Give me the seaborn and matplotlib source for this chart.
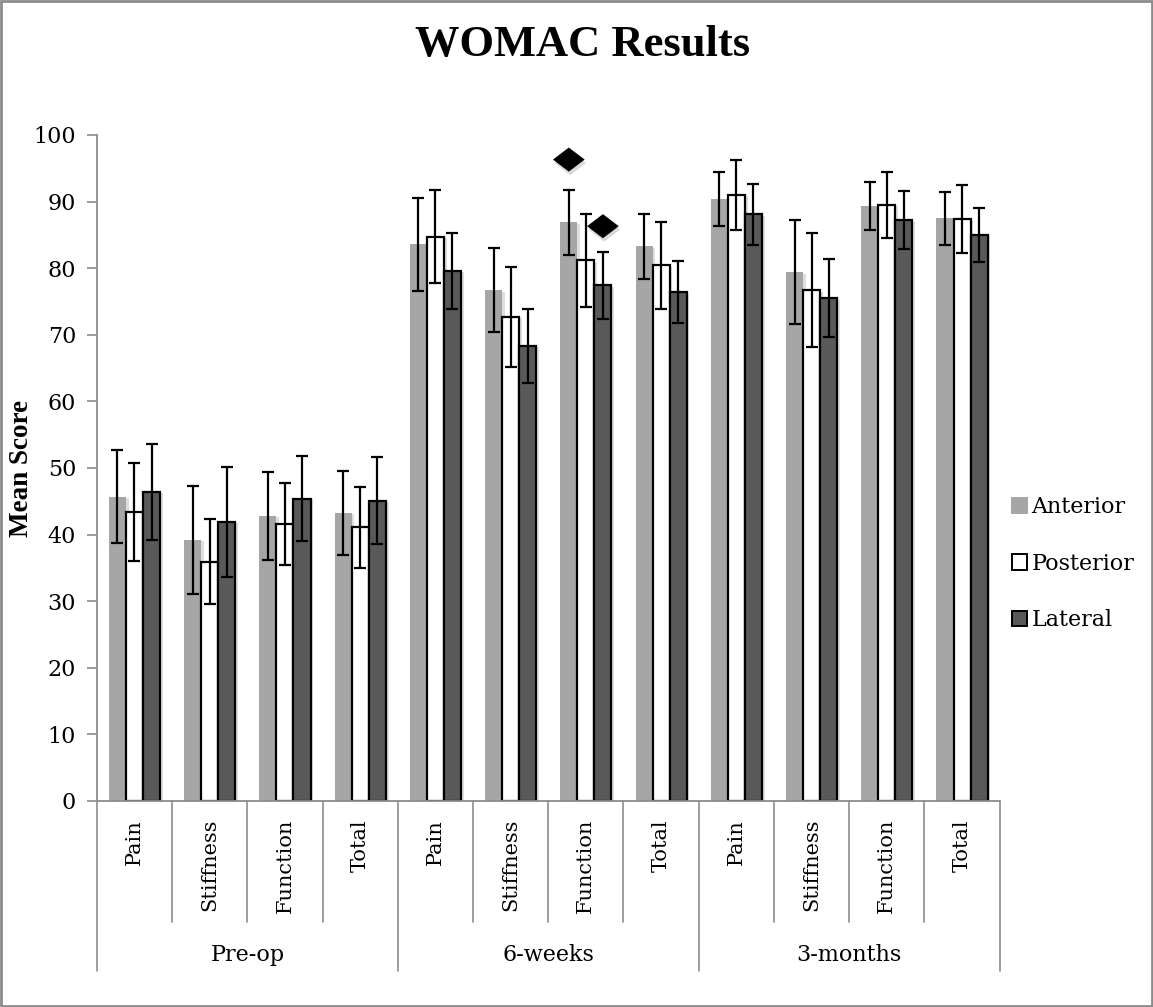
import pandas as pd
import seaborn as sns
import matplotlib.pyplot as plt
import matplotlib.patheffects as pe
from matplotlib.path import Path
from matplotlib.patches import Patch, Rectangle

# Valores
periods = ["Pre-op", "6-weeks", "3-months"]
measures = ["Pain", "Stiffness", "Function", "Total"]
approaches = ["Anterior", "Posterior", "Lateral"]

anterior_mean = [45.7, 39.2, 42.8, 43.3, 83.6, 76.7, 86.9, 83.3, 90.4, 79.4, 89.3, 87.5]
anterior_err = [7.0, 8.1, 6.6, 6.3, 7.0, 6.3, 4.9, 4.9, 4.0, 7.8, 3.6, 4.0]
posterior_mean = [43.4, 35.9, 41.6, 41.1, 84.7, 72.7, 81.2, 80.4, 91.0, 76.7, 89.5, 87.4]
posterior_err = [7.3, 6.4, 6.1, 6.1, 7.0, 7.5, 7.0, 6.5, 5.3, 8.6, 5.0, 5.1]
lateral_mean = [46.4, 41.9, 45.4, 45.1, 79.6, 68.3, 77.4, 76.4, 88.1, 75.5, 87.2, 85.0]
lateral_err = [7.2, 8.3, 6.4, 6.5, 5.7, 5.5, 5.0, 4.6, 4.6, 5.9, 4.4, 4.1]

# Diamantes de significância
sig_period = ["6-weeks", "6-weeks"]
sig_measure = ["Function", "Function"]
sig_approach = ["Anterior", "Lateral"]
sig_y = [96.3, 86.3]

colors = {"Anterior": "#a6a6a6", "Posterior": "#ffffff", "Lateral": "#595959"}
edges = {"Anterior": "none", "Posterior": "black", "Lateral": "black"}

# Montar o dataframe em formato longo
order = [f"{p}|{m}" for p in periods for m in measures]
means = {"Anterior": anterior_mean, "Posterior": posterior_mean, "Lateral": lateral_mean}
errs = {"Anterior": anterior_err, "Posterior": posterior_err, "Lateral": lateral_err}
rows = []
for a in approaches:
    for k, key in enumerate(order):
        rows.append({"Categoria": key, "Abordagem": a, "Media": means[a][k], "Erro": errs[a][k]})
df = pd.DataFrame(rows)

sns.set_style("white")
plt.rcParams["font.family"] = ["DejaVu Serif"]
plt.rcParams["text.color"] = "black"
plt.rcParams["ytick.labelcolor"] = "black"

fig = plt.figure(figsize=(11.53, 10.07), dpi=100)
ax = fig.add_axes([0.084, 0.2046, 0.783, 0.6614])

sns.barplot(data=df, x="Categoria", y="Media", hue="Abordagem", order=order,
            hue_order=approaches, palette=colors, width=0.68, errorbar=None,
            saturation=1, ax=ax, legend=False)

shadow = [pe.SimplePatchShadow(offset=(2, -1), shadow_rgbFace="black", alpha=0.13), pe.Normal()]
for cont, a in zip(ax.containers, approaches):
    xs = []
    for bar in cont:
        bar.set_edgecolor(edges[a])
        bar.set_linewidth(1.6 if a != "Anterior" else 0)
        bar.set_path_effects(shadow)
        xs.append(bar.get_x() + bar.get_width() / 2)
    ax.errorbar(xs, means[a], yerr=errs[a], fmt="none", ecolor="black",
                elinewidth=1.6, capsize=4, capthick=1.6, zorder=5)

# Diamantes
diamond = Path([(-1, 0), (0, 0.76), (1, 0), (0, -0.76), (-1, 0)])
for p, m, a, y in zip(sig_period, sig_measure, sig_approach, sig_y):
    bar = ax.containers[approaches.index(a)][order.index(f"{p}|{m}")]
    ax.scatter([bar.get_x() + bar.get_width() / 2], [y], marker=diamond, s=520,
               color="black", linewidths=0, zorder=6, clip_on=False,
               path_effects=[pe.SimplePatchShadow(offset=(1, -2.5), alpha=0.15), pe.Normal()])

ax.set_ylim(0, 100)
ax.set_xlim(-0.5, len(order) - 0.5)
ax.set_yticks(range(0, 101, 10))
ax.tick_params(axis="y", labelsize=16, length=7, width=1.2, color="#8c8c8c", pad=8,
               direction="out", left=True, labelcolor="black")
ax.set_xticks([])
ax.set_xlabel("")
ax.set_ylabel("")
for s in ["top", "right"]:
    ax.spines[s].set_visible(False)
for s in ["left", "bottom"]:
    ax.spines[s].set_color("#8c8c8c")
    ax.spines[s].set_linewidth(1.3)

# Rótulos de categoria hierárquicos
tr = ax.get_xaxis_transform()
for k, key in enumerate(order):
    ax.text(k, -0.027, key.split("|")[1], transform=tr, rotation=90, ha="center", va="top",
            fontsize=15, clip_on=False)
for k in range(len(order) + 1):
    bottom = -0.256 if k % 4 == 0 else -0.181
    ax.plot([k - 0.5, k - 0.5], [0, bottom], transform=tr, color="#8c8c8c",
            lw=1.2, clip_on=False)
for g, p in enumerate(periods):
    ax.text(g * 4 + 1.5, -0.232, p, transform=tr, ha="center", va="center",
            fontsize=16, clip_on=False)

fig.text(0.019, 0.535, "Mean Score", rotation=90, ha="center", va="center",
         fontsize=19.5, fontweight="bold", family=["Liberation Serif"])
fig.text(0.505, 0.955, "WOMAC Results", ha="center", va="center",
         fontsize=32, fontweight="bold", family=["Liberation Serif"])

handles = [Patch(facecolor=colors[a], edgecolor=("black" if a != "Anterior" else colors[a]),
                 linewidth=1.4) for a in approaches]
fig.legend(handles, approaches, loc="center left", bbox_to_anchor=(0.86, 0.44),
           frameon=False, fontsize=16, handlelength=0.7, handleheight=0.7,
           handletextpad=0.2, labelspacing=1.55)

fig.add_artist(Rectangle((0.001, 0.001), 0.998, 0.998, transform=fig.transFigure,
                         fill=False, edgecolor="#8c8c8c", linewidth=2))

plt.savefig("out.png", dpi=100)
